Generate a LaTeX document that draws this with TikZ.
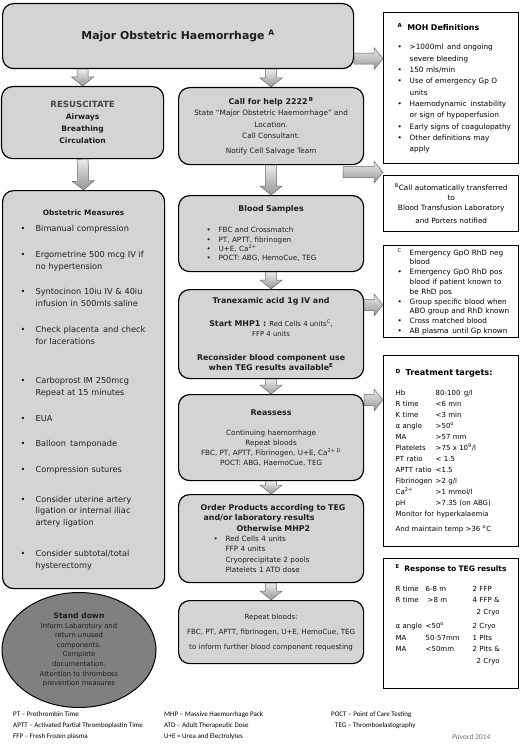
\documentclass[tikz,border=0pt]{standalone}
\usepackage{fontspec}
\setmainfont{DejaVu Sans}
\newfontfamily\footfont{Carlito}
\usepackage{tikz}
\usetikzlibrary{calc,positioning,shapes.geometric}

\definecolor{BoxGrey}{RGB}{212,212,212}
\definecolor{StandGrey}{RGB}{128,128,128}
\definecolor{InkDark}{RGB}{30,30,30}
\definecolor{ResusGrey}{RGB}{70,70,70}
\definecolor{ArrowLight}{RGB}{235,235,235}
\definecolor{ArrowDark}{RGB}{150,150,150}
\definecolor{ArrowLine}{RGB}{105,105,105}
\definecolor{PavordGrey}{RGB}{110,110,110}

\newcommand\hd{\fontsize{7.9}{10}\selectfont\bfseries}
\newcommand\nowrap{\rightskip=-40pt plus 1fil\relax\hyphenpenalty=10000\relax}
\newcommand\blt{\makebox[12pt][l]{\textbullet}}
\newcommand\bind{\hspace*{12pt}}
\newcommand\oblt{\makebox[15pt][l]{\textbullet}}
\newcommand\obind{\hspace*{15pt}}
\newcommand\jline[1]{\makebox[110pt][s]{#1}}
\newcommand\dcol[1]{\makebox[40pt][l]{#1}}
\newcommand\ecolA[1]{\makebox[30pt][l]{#1}}
\newcommand\ecolB[1]{\makebox[47pt][l]{#1}}

\tikzset{
  greybox/.style={draw=black,line width=1.2pt,fill=BoxGrey,rounded corners=11pt,inner sep=0pt,anchor=north west,text=InkDark},
  notebox/.style={draw=black,line width=1.4pt,fill=white,inner ysep=0pt,anchor=north west,align=left,text=black},
  standbox/.style={ellipse,draw=black,line width=1pt,fill=StandGrey,minimum width=154pt,minimum height=115pt,inner sep=0pt,align=center,font=\fontsize{6.8}{9.6}\selectfont,text=InkDark},
  foottext/.style={font=\footfont\fontsize{7}{11}\selectfont,align=left,inner sep=0pt,text=black},
  blockarrow/.style={top color=ArrowLight,bottom color=ArrowDark,draw=ArrowLine,line width=0.5pt,
    to path={
      ($(\tikztostart)!5.5pt!90:(\tikztotarget)$)
      -- ($(\tikztotarget)!9pt!(\tikztostart)!5.5pt!90:(\tikztotarget)$)
      -- ($(\tikztotarget)!9pt!(\tikztostart)!11pt!90:(\tikztotarget)$)
      -- (\tikztotarget)
      -- ($(\tikztotarget)!9pt!(\tikztostart)!11pt!-90:(\tikztotarget)$)
      -- ($(\tikztotarget)!9pt!(\tikztostart)!5.5pt!-90:(\tikztotarget)$)
      -- ($(\tikztostart)!5.5pt!-90:(\tikztotarget)$)
      -- cycle}}
}

\begin{document}
\begin{tikzpicture}[x=1pt,y=-1pt]
\useasboundingbox (0,0) rectangle (520,749);
\fill[white] (0,0) rectangle (520,749);

\node[greybox,minimum width=351pt,minimum height=65pt,font=\fontsize{10.9}{13}\selectfont\bfseries] (title) at (2,3) {Major Obstetric Haemorrhage \textsuperscript{A}};

\node[greybox,minimum width=162pt,minimum height=72pt,align=center,font=\fontsize{7.6}{12}\selectfont\bfseries] (resus) at (1,86)
  {{\fontsize{8.6}{12}\selectfont\color{ResusGrey}RESUSCITATE}\\Airways\\Breathing\\Circulation};

\node[greybox,minimum width=162pt,minimum height=398pt,text width=126pt,inner xsep=18pt,align=left,font=\fontsize{8.2}{11.7}\selectfont] (obst) at (2,190) {\nowrap
\makebox[\linewidth]{\fontsize{7.4}{10}\selectfont\bfseries Obstetric Measures}\\[5pt]
\oblt Bimanual compression\\[14pt]
\oblt Ergometrine 500 mcg IV if\\
\obind no hypertension\\[14pt]
\oblt Syntocinon 10iu IV \& 40iu\\
\obind infusion in 500mls saline\\[14pt]
\oblt Check placenta\, and check\\
\obind for lacerations\\[28pt]
\oblt Carboprost IM 250mcg\\
\obind Repeat at 15 minutes\\[14pt]
\oblt EUA\\[14pt]
\oblt Balloon\, tamponade\\[14pt]
\oblt Compression sutures\\[18pt]
\oblt\jline{Consider uterine artery}\\
\obind\jline{ligation or internal iliac}\\
\obind artery ligation\\[19pt]
\oblt\jline{Consider subtotal/total}\\
\obind hysterectomy\par};

\node[standbox] (standdown) at (79,650)
  {{\fontsize{7.6}{9.6}\selectfont\bfseries Stand down}\\Inform Labarotory and\\return unused\\components.\\Complete\\documentation.\\Attention to thromboss\\prevention measures};

\node[greybox,minimum width=185pt,minimum height=77pt,align=center,font=\fontsize{7.3}{11.5}\selectfont] (call) at (178,87)
  {{\hd Call for help 2222\,\textsuperscript{B}}\\State “Major Obstetric Haemorrhage” and\\Location.\\Call Consultant.\\[3pt]Notify Cell Salvage Team};

\node[greybox,minimum width=185pt,minimum height=76pt,text width=129pt,inner xsep=28pt,align=left,font=\fontsize{7.2}{9.4}\selectfont] (blood) at (178,195) {\nowrap
\makebox[\linewidth]{\hd Blood Samples}\\[12pt]
\blt FBC and Crossmatch\\
\blt PT, APTT, fibrinogen\\
\blt U+E, Ca\textsuperscript{2+}\\
\blt POCT: ABG, HemoCue, TEG\par};

\node[greybox,minimum width=185pt,minimum height=89pt,align=center,font=\fontsize{7.3}{10}\selectfont] (tran) at (178,289)
  {{\hd Tranexamic acid 1g IV and}\\[13pt]
   {\hd Start MHP1 :} {\fontsize{6.9}{10}\selectfont Red Cells 4 units\textsuperscript{C},}\\
   {\fontsize{6.9}{10}\selectfont FFP 4 units}\\[14pt]
   {\hd Reconsider blood component use}\\
   {\hd when TEG results available\textsuperscript{E}}};

\node[greybox,minimum width=185pt,minimum height=86pt,align=center,font=\fontsize{7.2}{10}\selectfont] (reass) at (178,394)
  {{\hd Reassess}\\[10pt]Continuing haemorrhage\\Repeat bloods\\FBC, PT, APTT, Fibrinogen, U+E, Ca\textsuperscript{2+\,\,D}\\POCT: ABG, HaemoCue, TEG};

\node[greybox,minimum width=185pt,minimum height=88pt,text width=141pt,inner xsep=22pt,align=left,font=\fontsize{7.2}{10.3}\selectfont] (order) at (178,494) {\nowrap
{\hd Order Products according to TEG}\\
\hspace*{3pt}{\hd and/or laboratory results}\\
\hspace*{36pt}{\hd Otherwise MHP2}\\
\hspace*{13pt}\blt Red Cells 4 units\\
\hspace*{25pt}FFP 4 units\\
\hspace*{25pt}Cryoprecipitate 2 pools\\
\hspace*{25pt}Platelets 1 ATD dose\par};

\node[greybox,minimum width=185pt,minimum height=63pt,align=center,font=\fontsize{7.1}{15}\selectfont] (repeat) at (178,600)
  {Repeat bloods:\\FBC, PT, APTT, fibrinogen, U+E, HemoCue, TEG\\to inform further blood component requesting};

\node[notebox,minimum width=135pt,minimum height=151pt,text width=107pt,inner xsep=14pt,font=\fontsize{7.3}{11.3}\selectfont] (moh) at (383,12) {\nowrap
{\fontsize{7.9}{11}\selectfont\bfseries\textsuperscript{A}\ \ MOH\ Definitions}\\[8.5pt]
\blt >1000ml\, and ongoing\\
\bind severe bleeding\\
\blt 150 mls/min\\
\blt Use of emergency Gp O\\
\bind units\\
\blt Haemodynamic\, instability\\
\bind or sign of hypoperfusion\\
\blt Early signs of coagulopathy\\
\blt Other definitions may\\
\bind apply\par};

\node[notebox,align=center,minimum width=135pt,minimum height=56pt,font=\fontsize{7.3}{10.5}\selectfont] (bnote) at (383,175)
  {\textsuperscript{B}Call automatically transferred\\[-0.5pt]to\\Blood Transfusion Laboratory\\[2.5pt]and Porters notified};

\node[notebox,minimum width=135pt,minimum height=92pt,text width=107pt,inner xsep=14pt,font=\fontsize{7.3}{9.8}\selectfont] (cnote) at (383,245) {\nowrap
\makebox[12pt][l]{\textsuperscript{C}}Emergency GpO RhD neg\\
\bind blood\\
\blt Emergency GpO RhD pos\\
\bind blood if patient known to\\
\bind be RhD pos\\
\blt Group specific blood when\\
\bind ABO group and RhD known\\
\blt Cross matched blood\\
\blt AB plasma\, until Gp known\par};

\node[notebox,minimum width=135pt,minimum height=191pt,text width=111pt,inner xsep=12pt,font=\fontsize{7}{11}\selectfont] (dnote) at (383,355) {\nowrap
{\fontsize{8.2}{11}\selectfont\bfseries\textsuperscript{D}\ \ Treatment targets:}\\[9pt]
\dcol{Hb}80-100\, g/l\\
\dcol{R time}<6 min\\
\dcol{K time}<3 min\\
\dcol{α angle}>50\textsuperscript{o}\\
\dcol{MA}>57 mm\\
\dcol{Platelets}>75 x 10\textsuperscript{9}/l\\
\dcol{PT ratio}< 1.5\\
\dcol{APTT ratio}<1.5\\
\dcol{Fibrinogen}>2 g/l\\
\dcol{Ca\textsuperscript{2+}}>1 mmol/l\\
\dcol{pH}>7.35 (on ABG)\\
Monitor for hyperkalaemia\\[4pt]
And maintain temp >36 \textsuperscript{o}C\par};

\node[notebox,minimum width=135pt,minimum height=130pt,text width=111pt,inner xsep=12pt,font=\fontsize{7}{11.5}\selectfont] (enote) at (383,558) {\nowrap
{\fontsize{7.5}{11}\selectfont\bfseries\textsuperscript{E}\ \ Response to TEG results}\\[8pt]
\ecolA{R time}\ecolB{6-8 m}2 FFP\\
\ecolA{R time}\ecolB{\hspace*{2pt}>8 m}4 FFP \&\\
\ecolA{}\ecolB{}\hspace*{4pt}2 Cryo\\[3pt]
\ecolA{α angle}\ecolB{<50\textsuperscript{o}}2 Cryo\\
\ecolA{MA}\ecolB{50-57mm}1 Plts\\
\ecolA{MA}\ecolB{<50mm}2 Plts \&\\
\ecolA{}\ecolB{}\hspace*{4pt}2 Cryo\\[8pt]
\mbox{}\par};

\node[foottext,anchor=north west] (abbrA) at (13,711) {PT – Prothrombin Time\\APTT – Activated Partial Thromboplastin Time\\FFP – Fresh Frozen plasma};
\node[foottext,anchor=north west] (abbrB) at (164,711) {MHP – Massive Haemorrhage Pack\\ATD – Adult Therapeutic Dose\\U+E = Urea and Electrolytes};
\node[foottext,anchor=north west] (abbrC) at (331,711) {POCT – Point of Care Testing\\\hspace*{4pt}TEG – Thromboelastography};
\node[foottext,anchor=base west,text=PavordGrey,font=\footfont\itshape\fontsize{7.5}{9}\selectfont] (signature) at (452,739) {Pavord 2014};

\coordinate (tr-a) at (title.south -| resus.north);
\coordinate (tc-a) at (title.south -| call.north);
\draw[blockarrow] (tr-a) to (resus.north);
\draw[blockarrow] (tc-a) to (call.north);
\draw[blockarrow] (resus.south) to (obst.north);
\draw[blockarrow] (call.south) to (blood.north);
\draw[blockarrow] (blood.south) to (tran.north);
\draw[blockarrow] (tran.south) to (reass.north);
\draw[blockarrow] (reass.south) to (order.north);
\draw[blockarrow] (order.south) to (repeat.north);

\coordinate (tm-a) at ([yshift=-22.5pt]title.east);
\coordinate (tm-b) at (tm-a -| moh.west);
\draw[blockarrow] (tm-a) to (tm-b);
\coordinate (cb-a) at ([xshift=-21pt,yshift=-7pt]call.south east);
\coordinate (cb-b) at (cb-a -| bnote.west);
\draw[blockarrow] (cb-a) to (cb-b);
\coordinate (tn-a) at ([yshift=-16pt]tran.north east);
\coordinate (tn-b) at (tn-a -| cnote.west);
\draw[blockarrow] (tn-a) to (tn-b);
\coordinate (rd-a) at ([yshift=-6pt]reass.north east);
\coordinate (rd-b) at (rd-a -| dnote.west);
\draw[blockarrow] (rd-a) to (rd-b);
\end{tikzpicture}
\end{document}
